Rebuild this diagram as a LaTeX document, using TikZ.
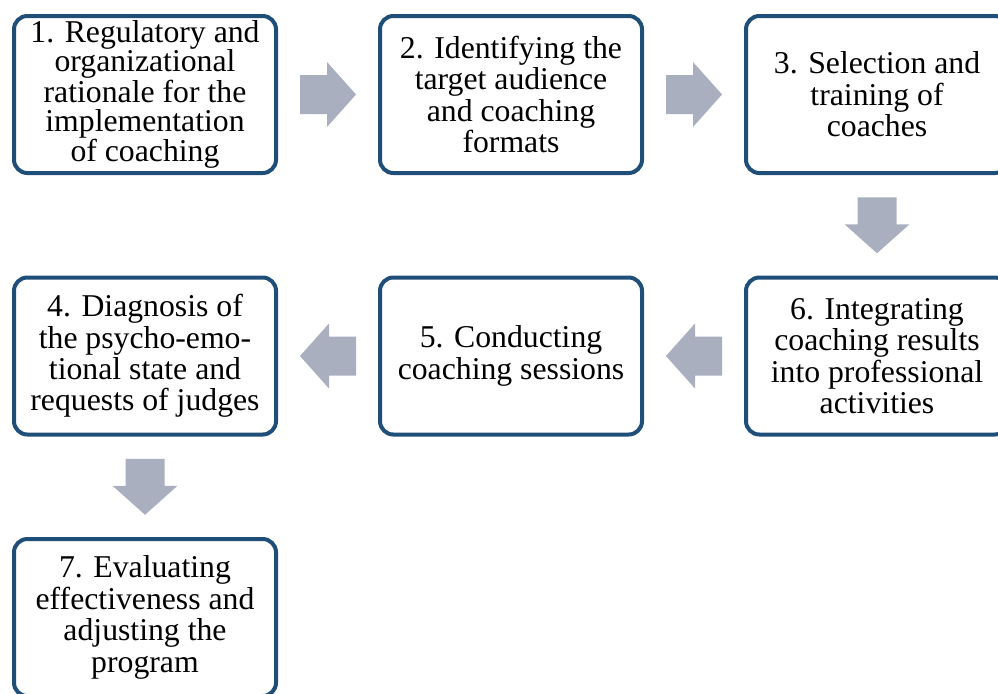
\documentclass[tikz,border=0pt]{standalone}
\usepackage{fontspec}
\setmainfont{Liberation Serif}
\usetikzlibrary{calc}
\definecolor{boxblue}{HTML}{1F4E79}
\definecolor{arrowgray}{HTML}{A9AFBF}
\begin{document}
\begin{tikzpicture}[x=0.75pt,y=-0.75pt,
  stepbox/.style={draw=boxblue, line width=3pt, rounded corners=10pt, fill=white,
    minimum width=196.5pt, minimum height=117.75pt, inner sep=0pt, align=center,
    font=\fontsize{23.8pt}{23.6pt}\selectfont},
  tightbox/.style={stepbox, font=\fontsize{23.8pt}{21.75pt}\selectfont},
  pics/blockarrow/.style={code={\fill[arrowgray] (-28,-19.5) -- (-1,-19.5) -- (-1,-32.5) -- (28,0) -- (-1,32.5) -- (-1,19.5) -- (-28,19.5) -- cycle;}}]
\useasboundingbox (0,0) rectangle (998,693);
\begin{scope}
\clip (0,0) rectangle (998,693);
\node[tightbox] (b1) at (145,94.5) {1. Regulatory and\\organizational\\rationale for the\\implementation\\of coaching};
\node[stepbox] (b2) at (511,94.5) {2. Identifying the\\target audience\\and coaching\\formats};
\node[stepbox] (b3) at (877,94.5) {3. Selection and\\training of\\coaches};
\node[stepbox] (b4) at (145,356) {4. Diagnosis of\\the psycho-emo-\\tional state and\\requests of judges};
\node[stepbox] (b5) at (511,356) {5. Conducting\\coaching sessions};
\node[stepbox] (b6) at (877,356) {6. Integrating\\coaching results\\into professional\\activities};
\node[stepbox] (b7) at (145,617.5) {7. Evaluating\\effectiveness and\\adjusting the\\program};
\pic at ($(b1.east)!0.5!(b2.west)$) {blockarrow};
\pic at ($(b2.east)!0.5!(b3.west)$) {blockarrow};
\pic[rotate=-90] at ($(b3.south)!0.5!(b6.north)$) {blockarrow};
\pic[rotate=180] at ($(b6.west)!0.5!(b5.east)$) {blockarrow};
\pic[rotate=180] at ($(b5.west)!0.5!(b4.east)$) {blockarrow};
\pic[rotate=-90] at ($(b4.south)!0.5!(b7.north)$) {blockarrow};
\end{scope}
\end{tikzpicture}
\end{document}
